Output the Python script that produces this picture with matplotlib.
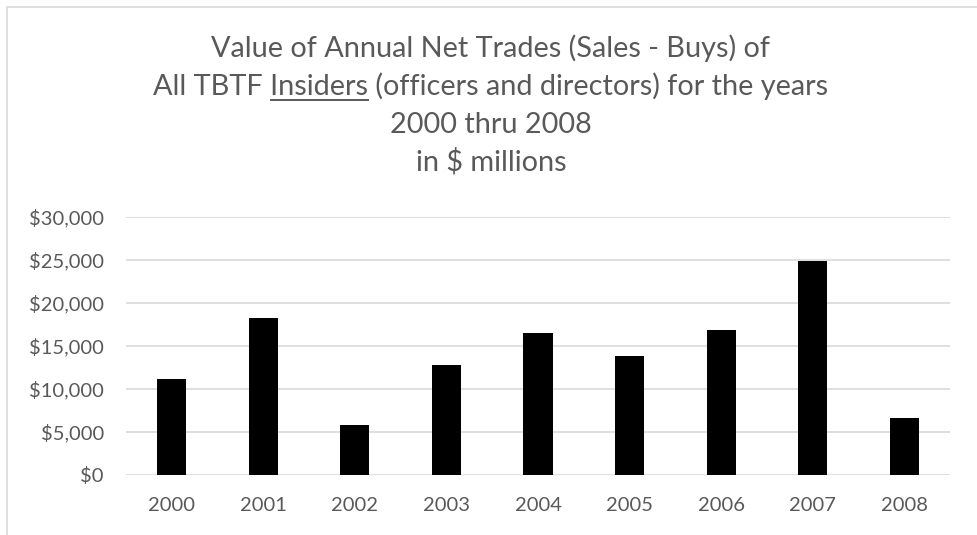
import matplotlib
matplotlib.use("Agg")
import matplotlib.pyplot as plt
from matplotlib.patches import Rectangle
from matplotlib.lines import Line2D

years = ["2000", "2001", "2002", "2003", "2004", "2005", "2006", "2007", "2008"]
net_trades = [11150, 18270, 5850, 12780, 16530, 13820, 16880, 24850, 6660]
y_ticks = [0, 5000, 10000, 15000, 20000, 25000, 30000]
y_tick_labels = ["$0", "$5,000", "$10,000", "$15,000", "$20,000", "$25,000", "$30,000"]

title_lines = [
    "Value of Annual Net Trades (Sales - Buys) of",
    "All TBTF Insiders (officers and directors) for the years",
    "2000 thru 2008",
    "in $ millions",
]

FONT = "Lato"
TEXT_GRAY = "#595959"
GRID_GRAY = "#d9d9d9"
W, H = 977, 535

fig = plt.figure(figsize=(W / 100, H / 100), dpi=100)
fig.patch.set_facecolor("white")

# chart-area border (top and left edges visible)
fig.add_artist(Rectangle((7 / W, -0.05), 1.1, (H - 7) / H + 0.05,
                         transform=fig.transFigure, fill=False,
                         edgecolor="#d9d9d9", linewidth=1.2))

ax = fig.add_axes([126 / W, (H - 475) / H, (950 - 126) / W, (475 - 216.7) / H])
x = list(range(len(years)))
ax.bar(x, net_trades, width=0.317, color="black", zorder=3)
ax.set_xlim(-0.5, len(years) - 0.5)
ax.set_ylim(0, 30000)
ax.set_yticks(y_ticks)
ax.set_yticklabels(y_tick_labels)
ax.set_xticks(x)
ax.set_xticklabels(years)
ax.grid(axis="y", color=GRID_GRAY, linewidth=1.2, zorder=0)
for s in ax.spines.values():
    s.set_visible(False)
ax.tick_params(axis="both", length=0, colors=TEXT_GRAY, labelsize=14.5)
ax.tick_params(axis="y", pad=16)
ax.tick_params(axis="x", pad=16)
for lab in ax.get_xticklabels() + ax.get_yticklabels():
    lab.set_fontfamily(FONT)

# title, line by line
title_size = 20.8
cx = 491 / W
baselines = [57, 95, 133, 170]
texts = []
for line, yb in zip(title_lines, baselines):
    t = fig.text(cx, (H - yb) / H, line, ha="center", va="baseline",
                 fontsize=title_size, fontfamily=FONT, color=TEXT_GRAY)
    texts.append(t)

# underline the word "Insiders" in the second line
fig.canvas.draw()
renderer = fig.canvas.get_renderer()
line2 = texts[1]
bb = line2.get_window_extent(renderer)
probe_a = fig.text(0, 0, "All TBTF Insiders", fontsize=title_size, fontfamily=FONT)
probe_b = fig.text(0, 0, "Insiders", fontsize=title_size, fontfamily=FONT)
wa = probe_a.get_window_extent(renderer).width
wb = probe_b.get_window_extent(renderer).width
probe_a.remove()
probe_b.remove()
x0 = bb.x0 + wa - wb
x1 = bb.x0 + wa
uy = (H - 100) / H
fig.add_artist(Line2D([x0 / W, x1 / W], [uy, uy], transform=fig.transFigure,
                      color=TEXT_GRAY, linewidth=1.4))

fig.savefig("out.png", dpi=100, facecolor="white")
